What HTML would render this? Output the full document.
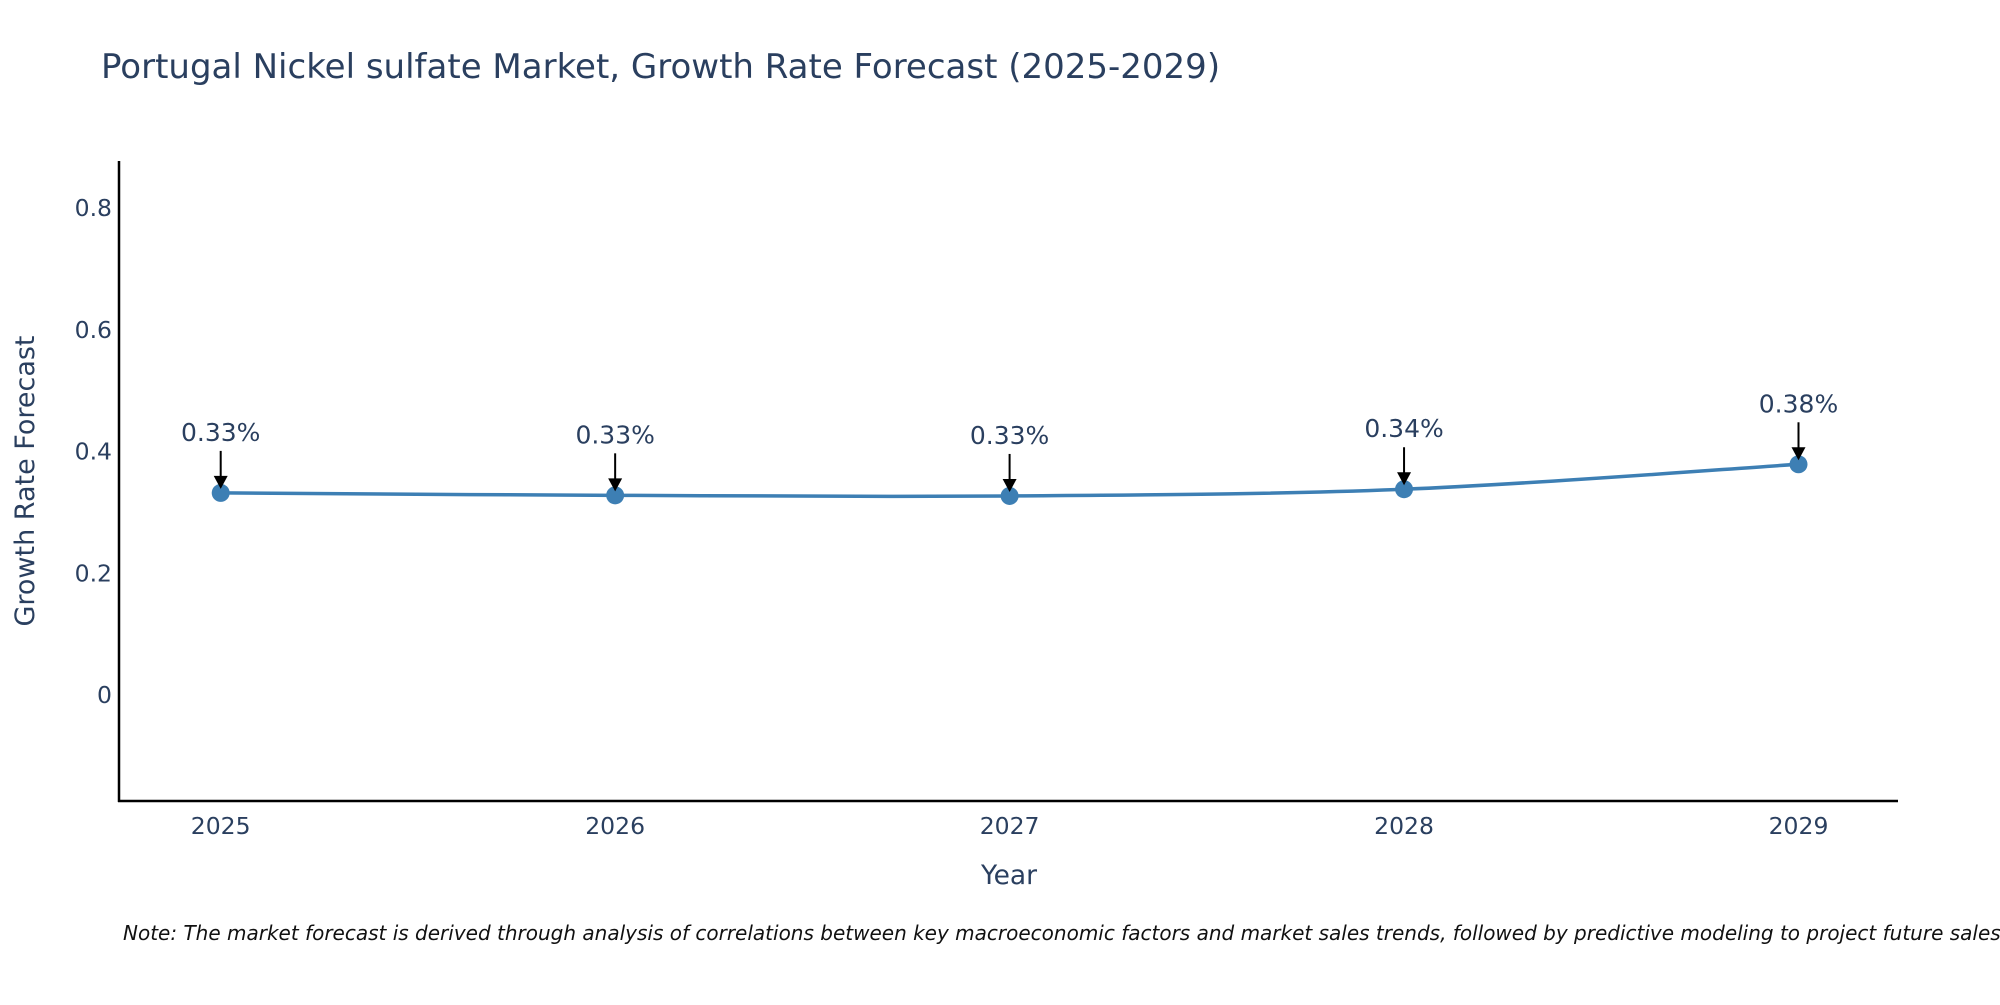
<!DOCTYPE html>
<html><head><meta charset="utf-8"><style>
body{margin:0;background:#fff;}
svg text{font-family:"DejaVu Sans","Liberation Sans",sans-serif;}
</style></head><body>
<svg id="chart" width="2000" height="1000" xmlns="http://www.w3.org/2000/svg">
<rect width="2000" height="1000" fill="#fff"/>
<text x="101" y="78" font-size="34" fill="#2a3f5f">Portugal Nickel sulfate Market, Growth Rate Forecast (2025-2029)</text>
<g id="yticks"></g>
<g id="xticks"></g>
<line x1="119" y1="161" x2="119" y2="802" stroke="#000" stroke-width="2.5"/>
<line x1="118" y1="801" x2="1898" y2="801" stroke="#000" stroke-width="2.5"/>
<text transform="translate(34,481) rotate(-90)" text-anchor="middle" font-size="27" fill="#2a3f5f">Growth Rate Forecast</text>
<text x="1009" y="884" text-anchor="middle" font-size="26.5" fill="#2a3f5f">Year</text>
<path id="line" fill="none" stroke="#3d7fb4" stroke-width="3.5"/>
<g id="marks"></g>
<text x="123" y="940" font-size="20" font-style="italic" fill="#111">Note: The market forecast is derived through analysis of correlations between key macroeconomic factors and market sales trends, followed by predictive modeling to project future sales.</text>
</svg>
<script>
const years=[2025,2026,2027,2028,2029];
const values=[0.332,0.328,0.327,0.338,0.379];
const labels=["0.33%","0.33%","0.33%","0.34%","0.38%"];
const yTicks=[0,0.2,0.4,0.6,0.8];
const NS="http://www.w3.org/2000/svg";
const x=v=>220.7+(v-2025)*394.45;
const y=v=>695-v*608.75;
function mk(t,a,p){const e=document.createElementNS(NS,t);for(const k in a)e.setAttribute(k,a[k]);p.appendChild(e);return e;}
const yt=document.getElementById('yticks');
yTicks.forEach(t=>{const e=mk('text',{x:112,y:y(t)+8,'text-anchor':'end','font-size':'23.5',fill:'#2a3f5f'},yt);e.textContent=String(t);

});
const xt=document.getElementById('xticks');
years.forEach(t=>{const e=mk('text',{x:x(t),y:834,'text-anchor':'middle','font-size':'23.5',fill:'#2a3f5f'},xt);e.textContent=String(t);

});
const P=years.map((t,i)=>[x(t),y(values[i])]);
let d=`M${P[0][0]},${P[0][1]}`;
for(let i=0;i<P.length-1;i++){const p0=P[Math.max(0,i-1)],p1=P[i],p2=P[i+1],p3=P[Math.min(P.length-1,i+2)];
const c1=[p1[0]+(p2[0]-p0[0])/6,p1[1]+(p2[1]-p0[1])/6],c2=[p2[0]-(p3[0]-p1[0])/6,p2[1]-(p3[1]-p1[1])/6];
d+=` C${c1[0]},${c1[1]} ${c2[0]},${c2[1]} ${p2[0]},${p2[1]}`;}
document.getElementById('line').setAttribute('d',d);
const mg=document.getElementById('marks');
P.forEach((p,i)=>{
const c=mk('circle',{cx:p[0],cy:p[1],r:9,fill:'#3d7fb4'},mg);


const l=mk('line',{x1:p[0],y1:p[1]-42,x2:p[0],y2:p[1]-14,stroke:'#000','stroke-width':2},mg);


const a=mk('polygon',{points:`${p[0]-7},${p[1]-17} ${p[0]+7},${p[1]-17} ${p[0]},${p[1]-4}`,fill:'#000'},mg);


const t=mk('text',{x:p[0],y:p[1]-52,'text-anchor':'middle','font-size':'25',fill:'#2a3f5f'},mg);t.textContent=labels[i];


});
</script>
</body></html>
